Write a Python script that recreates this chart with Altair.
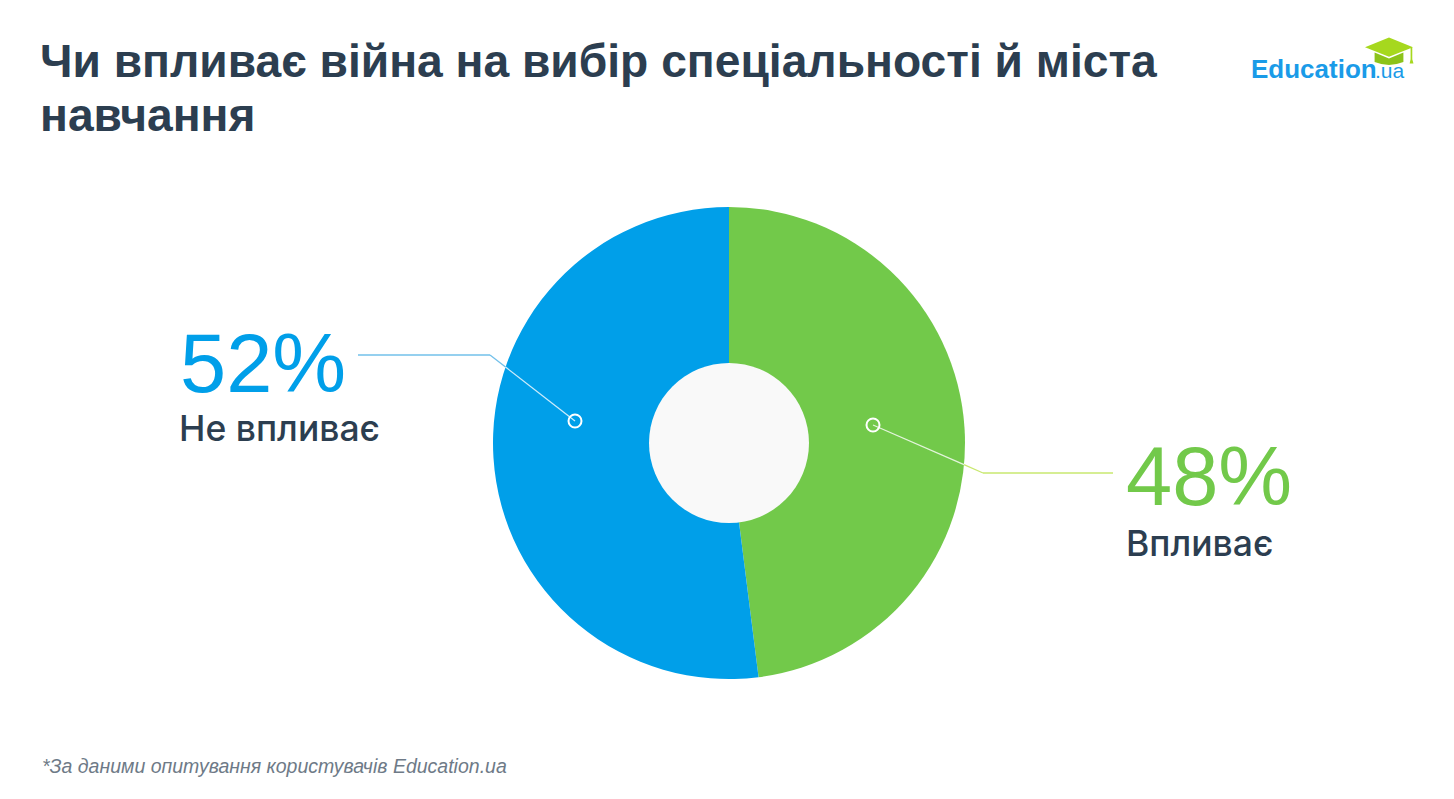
import math
import altair as alt
import pandas as pd

W, H = 1454, 799

# ---- data ----
categories = ["Впливає", "Не впливає"]
values = [48, 52]
slice_colors = ["#72c94a", "#009fe9"]
line_colors = ["#c9e86f", "#72c0ea"]
title_lines = ["Чи впливає війна на вибір спеціальності й міста", "навчання"]
footnote = "*За даними опитування користувачів Education.ua"
logo_main = "Education"
logo_suffix = ".ua"

# ---- layout (pixels) ----
CX, CY = 729, 443
R_OUT, R_IN = 236, 80
dots = [(873, 425), (575, 421)]
elbows = [(983, 473), (490, 355)]
ends = [(1113, 473), (358, 355)]
pct_pos = [(1126, 505), (180, 392)]
lab_pos = [(1126, 556), (179, 441)]


def crossing(p, q):
    dx, dy = q[0] - p[0], q[1] - p[1]
    fx, fy = p[0] - CX, p[1] - CY
    a = dx * dx + dy * dy
    b = 2 * (fx * dx + fy * dy)
    c = fx * fx + fy * fy - R_OUT ** 2
    t = (-b + math.sqrt(b * b - 4 * a * c)) / (2 * a)
    return (p[0] + t * dx, p[1] + t * dy)


pie_df = pd.DataFrame({"cat": categories, "val": values, "ord": [0, 1], "col": slice_colors})

outer_rows, inner_rows = [], []
for i, cat in enumerate(categories):
    cr = crossing(dots[i], elbows[i])
    outer_rows.append(dict(col=line_colors[i], x=cr[0], y=cr[1], x2=elbows[i][0], y2=elbows[i][1]))
    outer_rows.append(dict(col=line_colors[i], x=elbows[i][0], y=elbows[i][1], x2=ends[i][0], y2=ends[i][1]))
    inner_rows.append(dict(x=dots[i][0], y=dots[i][1], x2=cr[0], y2=cr[1]))
outer_df = pd.DataFrame(outer_rows)
inner_df = pd.DataFrame(inner_rows)
dot_df = pd.DataFrame({"cat": categories, "x": [d[0] for d in dots], "y": [d[1] for d in dots]})

xs = alt.Scale(domain=[0, W], nice=False, zero=False)
ys = alt.Scale(domain=[0, H], nice=False, zero=False, reverse=True)
X = lambda f="x": alt.X(f"{f}:Q", scale=xs, axis=None)
Y = lambda f="y": alt.Y(f"{f}:Q", scale=ys, axis=None)

leader_outer = alt.Chart(outer_df).mark_rule(strokeWidth=1.3).encode(
    x=X(), y=Y(), x2="x2:Q", y2="y2:Q",
    color=alt.Color("col:N", scale=None),
)

pie = alt.Chart(pie_df).mark_arc(outerRadius=R_OUT, innerRadius=0).encode(
    theta=alt.Theta("val:Q", stack=True),
    order=alt.Order("ord:Q"),
    color=alt.Color("col:N", scale=None),
    x=alt.value(CX), y=alt.value(CY),
)

hole = alt.Chart(pd.DataFrame({"x": [CX], "y": [CY]})).mark_point(
    shape="circle", filled=True, color="#f9f9f9", opacity=1, size=(2 * R_IN) ** 2
).encode(x=X(), y=Y())

leader_inner = alt.Chart(inner_df).mark_rule(strokeWidth=1.3, color="white", opacity=0.8).encode(
    x=X(), y=Y(), x2="x2:Q", y2="y2:Q"
)

dot_marks = alt.Chart(dot_df).mark_point(
    shape="circle", filled=False, color="white", strokeWidth=2, size=169, opacity=1
).encode(x=X(), y=Y())

layers = [leader_outer, pie, hole, leader_inner, dot_marks]

FONT = "Liberation Sans"
for i, cat in enumerate(categories):
    layers.append(
        alt.Chart(pd.DataFrame({"t": [f"{values[i]}%"]})).mark_text(
            font=FONT, fontSize=83, color=slice_colors[i], align="left", baseline="alphabetic"
        ).encode(text="t:N", x=alt.value(pct_pos[i][0]), y=alt.value(pct_pos[i][1]))
    )
    layers.append(
        alt.Chart(pd.DataFrame({"t": [cat]})).mark_text(
            font="Inter", fontWeight=500, fontSize=35.5, color="#2c3e50",
            align="left", baseline="alphabetic"
        ).encode(text="t:N", x=alt.value(lab_pos[i][0]), y=alt.value(lab_pos[i][1]))
    )

for j, line in enumerate(title_lines):
    layers.append(
        alt.Chart(pd.DataFrame({"t": [line]})).mark_text(
            font=FONT, fontSize=46.2, fontWeight="bold", color="#2c3e50",
            align="left", baseline="alphabetic"
        ).encode(text="t:N", x=alt.value(40), y=alt.value(77 + 54 * j))
    )

layers.append(
    alt.Chart(pd.DataFrame({"t": [footnote]})).mark_text(
        font=FONT, fontSize=19.5, fontStyle="italic", color="#6e7a87",
        align="left", baseline="alphabetic"
    ).encode(text="t:N", x=alt.value(42), y=alt.value(773))
)

# logo
layers.append(
    alt.Chart(pd.DataFrame({"t": [logo_main]})).mark_text(
        font=FONT, fontSize=26, fontWeight="bold", color="#1a9be8", align="left", baseline="alphabetic"
    ).encode(text="t:N", x=alt.value(1251), y=alt.value(78))
)
layers.append(
    alt.Chart(pd.DataFrame({"t": [logo_suffix]})).mark_text(
        font=FONT, fontSize=21, color="#1a9be8", align="left", baseline="alphabetic"
    ).encode(text="t:N", x=alt.value(1375), y=alt.value(78))
)
cap_top = "M-1,-0.2 L0,-0.6 L1,-0.2 L0,0.2 Z M0.9,-0.2 L0.97,-0.2 L0.97,0.3 L1.02,0.48 L0.86,0.48 L0.9,0.3 Z"
cap_base = "M-0.6,0.02 L0,0.27 L0.6,0.02 L0.6,0.42 Q0,0.66 -0.6,0.42 Z"
layers.append(
    alt.Chart(pd.DataFrame({"x": [1389], "y": [52]})).mark_point(
        shape=cap_top, filled=True, color="#a6d81e", opacity=1, size=48 * 48
    ).encode(x=X(), y=Y())
)
layers.append(
    alt.Chart(pd.DataFrame({"x": [1389], "y": [52]})).mark_point(
        shape=cap_base, filled=True, color="#8cc31a", opacity=1, size=48 * 48
    ).encode(x=X(), y=Y())
)

chart = alt.layer(*layers).properties(
    width=W, height=H, autosize=alt.AutoSizeParams(type="none"), padding=0,
    background="white",
).configure_view(stroke=None)

chart.save("out.html", embed_options={"renderer": "svg", "actions": False})
